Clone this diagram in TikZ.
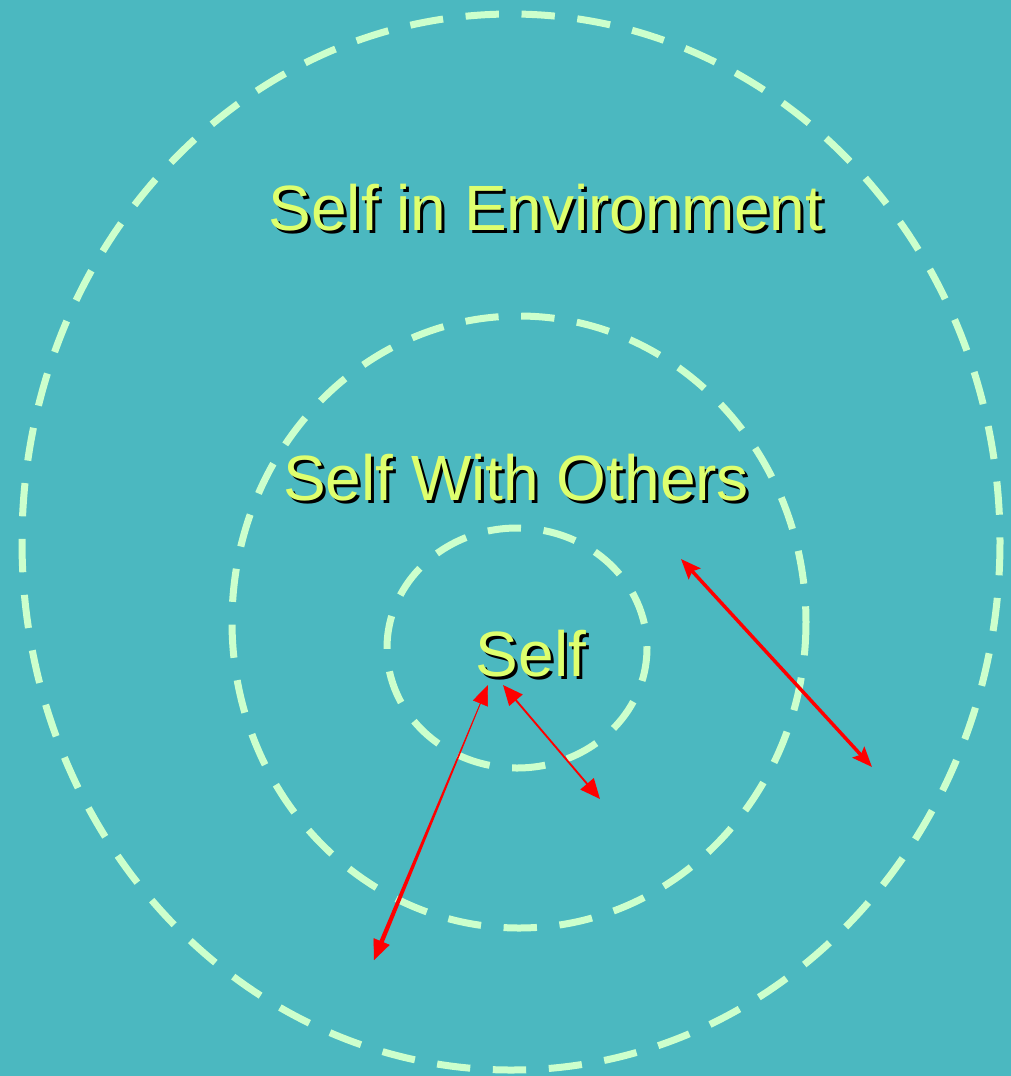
\documentclass[tikz,border=0pt]{standalone}
\usepackage{fontspec}
\setmainfont{Liberation Sans}
\usetikzlibrary{arrows.meta,calc}
\definecolor{bg}{RGB}{75,184,192}
\definecolor{ring}{RGB}{204,255,204}
\definecolor{lbl}{RGB}{222,255,110}
\definecolor{arr}{RGB}{255,0,0}
\newcommand{\shadowtext}[1]{\makebox[0pt][l]{\hspace{2.25pt}\raisebox{-2.25pt}{\color{black}#1}}#1}
\begin{document}
\begin{tikzpicture}[x=0.75pt,y=-0.75pt,
  ringstyle/.style={draw=ring,line width=5.25pt,dash pattern=on 25pt off 17pt},
  lblstyle/.style={text=lbl,anchor=base,inner sep=0pt,font=\fontsize{48}{58}\selectfont},
  redarrow/.style={draw=arr,line width=#1},
]
\fill[bg] (0,0) rectangle (1011,1076);
\useasboundingbox (0,0) rectangle (1011,1076);
% rings
\draw[ringstyle] (511,542) ellipse [x radius=489, y radius=528];
\draw[ringstyle] (519,622) ellipse [x radius=287, y radius=306];
\draw[ringstyle] (517,648) ellipse [x radius=130, y radius=120];
% labels with shadows
\node[lblstyle] (env) at (546,230) {\shadowtext{Self in Environment}};
\node[lblstyle] (oth) at (516,500) {\shadowtext{Self With Others}};
\node[lblstyle] (self) at (531,676) {\shadowtext{Self}};
% arrow end points
\coordinate (a1) at (681,559);
\coordinate (b1) at (872,767);
\coordinate (a2) at (503,685);
\coordinate (b2) at (600,799);
\coordinate (a3) at (488,685);
\coordinate (b3) at (374,960);
\draw[redarrow=2.6pt,{Stealth[length=15pt,width=12pt,inset=2.5pt]}-{Stealth[length=15pt,width=12pt,inset=2.5pt]}] (a1) -- (b1);
\draw[redarrow=1.4pt,{Triangle[length=15pt,width=13pt]}-{Triangle[length=15pt,width=13pt]}] (a2) -- (b2);
% tapered arrow
\coordinate (a3i) at ($(a3)!12pt!(b3)$);
\coordinate (b3i) at ($(b3)!12pt!(a3)$);
\fill[arr] ($(a3i)!0.3pt!90:(b3)$) -- ($(a3i)!0.3pt!-90:(b3)$) -- ($(b3i)!1.7pt!90:(a3)$) -- ($(b3i)!1.7pt!-90:(a3)$) -- cycle;
\draw[redarrow=0.3pt,{Triangle[length=15pt,width=12pt]}-{Triangle[length=15pt,width=13pt]}] (a3) -- (b3);
\end{tikzpicture}
\end{document}
